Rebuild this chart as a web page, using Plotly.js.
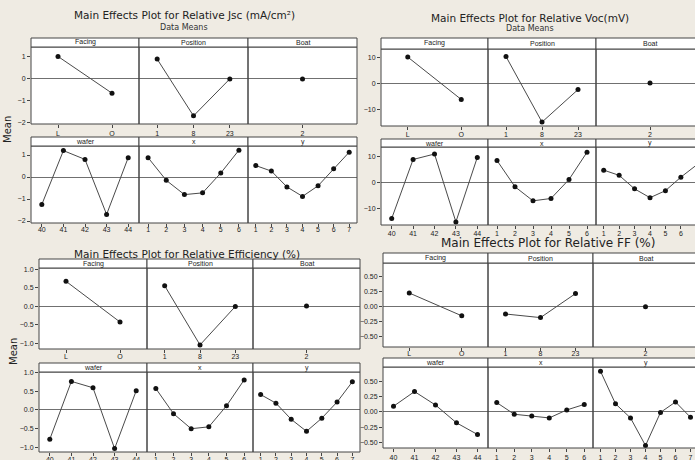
<!DOCTYPE html>
<html><head><meta charset="utf-8">
<script src="https://cdn.plot.ly/plotly-3.0.1.min.js"></script>
<style>html,body{margin:0;padding:0;background:#efebe3}#chart{width:695px;height:460px}</style>
</head><body><div id="chart"></div>
<script>
// ---- categories / tick labels ----
const facingCats = ["L","O"];
const positionCats = ["1","8","23"];
const boatCats = ["2"];
const waferCats = ["40","41","42","43","44"];
const xCats = ["1","2","3","4","5","6"];
const yCats = ["1","2","3","4","5","6","7"];
const factorNames = ["Facing","Position","Boat","wafer","x","y"];

// ---- Relative Jsc (mA/cm²) means ----
const jscFacing = [1.02,-0.65];
const jscPosition = [0.9,-1.68,0.0];
const jscBoat = [0.0];
const jscWafer = [-1.25,1.2,0.8,-1.7,0.88];
const jscX = [0.88,-0.15,-0.8,-0.72,0.18,1.22];
const jscY = [0.52,0.27,-0.45,-0.88,-0.4,0.38,1.13];

// ---- Relative Voc (mV) means ----
const vocFacing = [10,-6.3];
const vocPosition = [10.2,-15,-2.5];
const vocBoat = [0];
const vocWafer = [-14,8.7,10.8,-15.3,9.5];
const vocX = [8.3,-1.8,-7.2,-6.3,1.0,11.5];
const vocY = [4.6,2.6,-2.6,-6.0,-3.3,1.9,6.5];

// ---- Relative Efficiency (%) means ----
const effFacing = [0.67,-0.43];
const effPosition = [0.55,-1.05,-0.01];
const effBoat = [0];
const effWafer = [-0.78,0.76,0.59,-1.03,0.51];
const effX = [0.57,-0.1,-0.5,-0.45,0.11,0.8];
const effY = [0.41,0.18,-0.25,-0.57,-0.22,0.21,0.75];

// ---- Relative FF (%) means ----
const ffFacing = [0.23,-0.15];
const ffPosition = [-0.12,-0.18,0.22];
const ffBoat = [0];
const ffWafer = [0.09,0.33,0.11,-0.18,-0.37];
const ffX = [0.15,-0.04,-0.07,-0.1,0.03,0.12];
const ffY = [0.66,0.13,-0.1,-0.55,-0.01,0.16,-0.09];

const catSets = [facingCats, positionCats, boatCats, waferCats, xCats, yCats];

// ---- layout geometry (pixels) ----
const W = 695, H = 460;
const charts = [
  {title:"Main Effects Plot for Relative Jsc (mA/cm²)", sub:"Data Means", tx:184, ty:15, sy:28, tsize:10.5,
   cols:[31,139,248,357],
   rows:[{strip:38,top:47,bot:124,range:[-2.05,1.45],stand:0},{strip:137,top:146,bot:223,range:[-2.09,1.41],stand:-3}],
   ticks:[-2,-1,0,1], fmt:"d", mean:{x:8,y:130},
   series:[jscFacing,jscPosition,jscBoat,jscWafer,jscX,jscY]},
  {title:"Main Effects Plot for Relative Voc(mV)", sub:"Data Means", tx:530, ty:18, sy:29, tsize:10.5,
   cols:[381,488,596,704],
   rows:[{strip:38,top:49,bot:126,range:[-16.5,13.1],stand:-1},{strip:139,top:147,bot:225,range:[-16.5,13.5],stand:-1}],
   ticks:[-10,0,10], fmt:"d", mean:null,
   series:[vocFacing,vocPosition,vocBoat,vocWafer,vocX,vocY]},
  {title:"Main Effects Plot for Relative Efficiency (%)", sub:null, tx:187, ty:254, tsize:10.5,
   cols:[39,147,253,360],
   rows:[{strip:259,top:268,bot:349,range:[-1.16,1.03],stand:-2},{strip:363,top:372,bot:452,range:[-1.12,1.01],stand:-2}],
   ticks:[-1,-0.5,0,0.5,1], fmt:".1f", mean:{x:13,y:352},
   series:[effFacing,effPosition,effBoat,effWafer,effX,effY]},
  {title:"Main Effects Plot for Relative FF (%)", sub:null, tx:548, ty:243, tsize:12,
   cols:[383,488,593,698],
   rows:[{strip:253,top:263,bot:347,range:[-0.67,0.73],stand:-3},{strip:358,top:367,bot:448,range:[-0.59,0.73],stand:0}],
   ticks:[-0.5,-0.25,0,0.25,0.5], fmt:".2f", mean:null,
   series:[ffFacing,ffPosition,ffBoat,ffWafer,ffX,ffY]}
];

const traces = [];
const layout = {
  width:W, height:H, margin:{l:0,r:0,t:0,b:0},
  paper_bgcolor:"#efebe3", plot_bgcolor:"#ffffff", showlegend:false,
  font:{family:"Liberation Sans, Arial, sans-serif", color:"#222"},
  shapes:[], annotations:[]
};
const px = v => v / W;
const py = v => 1 - v / H;
const border = "#444444";
let n = 0;

charts.forEach(ch => {
  layout.annotations.push({xref:"paper", yref:"paper", x:px(ch.tx), y:py(ch.ty), text:ch.title, showarrow:false,
    xanchor:"center", yanchor:"middle", font:{size:ch.tsize, color:"#222", family:"DejaVu Sans, sans-serif"}});
  if (ch.sub) layout.annotations.push({xref:"paper", yref:"paper", x:px(ch.tx), y:py(ch.sy), text:ch.sub, showarrow:false,
    xanchor:"center", yanchor:"middle", font:{size:8, color:"#333", family:"DejaVu Sans, sans-serif"}});
  if (ch.mean) layout.annotations.push({xref:"paper", yref:"paper", x:px(ch.mean.x), y:py(ch.mean.y), text:"Mean", textangle:-90,
    showarrow:false, xanchor:"center", yanchor:"middle", font:{size:10, color:"#222", family:"DejaVu Sans, sans-serif"}});
  ch.series.forEach((vals, k) => {
    n += 1;
    const r = Math.floor(k / 3), c = k % 3;
    const row = ch.rows[r];
    const cats = catSets[k];
    const left = ch.cols[c], right = ch.cols[c + 1];
    const clampedRight = Math.min(right, W);
    const xEnd = -0.5 + cats.length * (clampedRight - left) / (right - left);
    const xa = "xaxis" + (n === 1 ? "" : n), ya = "yaxis" + (n === 1 ? "" : n);
    const xr = "x" + (n === 1 ? "" : n), yr = "y" + (n === 1 ? "" : n);
    layout[xa] = {domain:[px(left), px(clampedRight)], anchor:yr, type:"category", categoryorder:"array",
      categoryarray:cats, range:[-0.5, xEnd], showgrid:false, zeroline:false, showline:false,
      ticks:"outside", ticklen:3, tickcolor:border, tickfont:{size:7, color:"#222"},
      ticklabelstandoff:row.stand, fixedrange:true};
    layout[ya] = {domain:[py(row.bot), py(row.top)], anchor:xr, range:row.range, showgrid:false,
      zeroline:true, zerolinecolor:"#707070", zerolinewidth:1, showline:false,
      tickvals:ch.ticks, tickformat:ch.fmt, showticklabels:c === 0, ticks:c === 0 ? "outside" : "",
      ticklen:3, tickcolor:border, tickfont:{size:7, color:"#222"}, fixedrange:true};
    traces.push({type:"scatter", mode:"lines+markers", x:cats, y:vals, xaxis:xr, yaxis:yr, cliponaxis:false,
      line:{color:"#4a4a4a", width:1}, marker:{color:"#111", size:5}, hoverinfo:"skip"});
    layout.shapes.push({type:"rect", xref:"paper", yref:"paper", x0:px(left), x1:px(right), y0:py(row.bot), y1:py(row.top),
      line:{color:border, width:1}, fillcolor:"rgba(0,0,0,0)", layer:"above"});
    layout.shapes.push({type:"rect", xref:"paper", yref:"paper", x0:px(left), x1:px(right), y0:py(row.top), y1:py(row.strip),
      line:{color:border, width:1}, fillcolor:"#ffffff", layer:"above"});
    layout.annotations.push({xref:"paper", yref:"paper", x:px((left + right) / 2), y:py((row.strip + row.top) / 2),
      text:factorNames[k], showarrow:false, xanchor:"center", yanchor:"middle", font:{size:7, color:"#222"}});
  });
});

Plotly.newPlot("chart", traces, layout, {staticPlot:true, displayModeBar:false});
</script></body></html>
